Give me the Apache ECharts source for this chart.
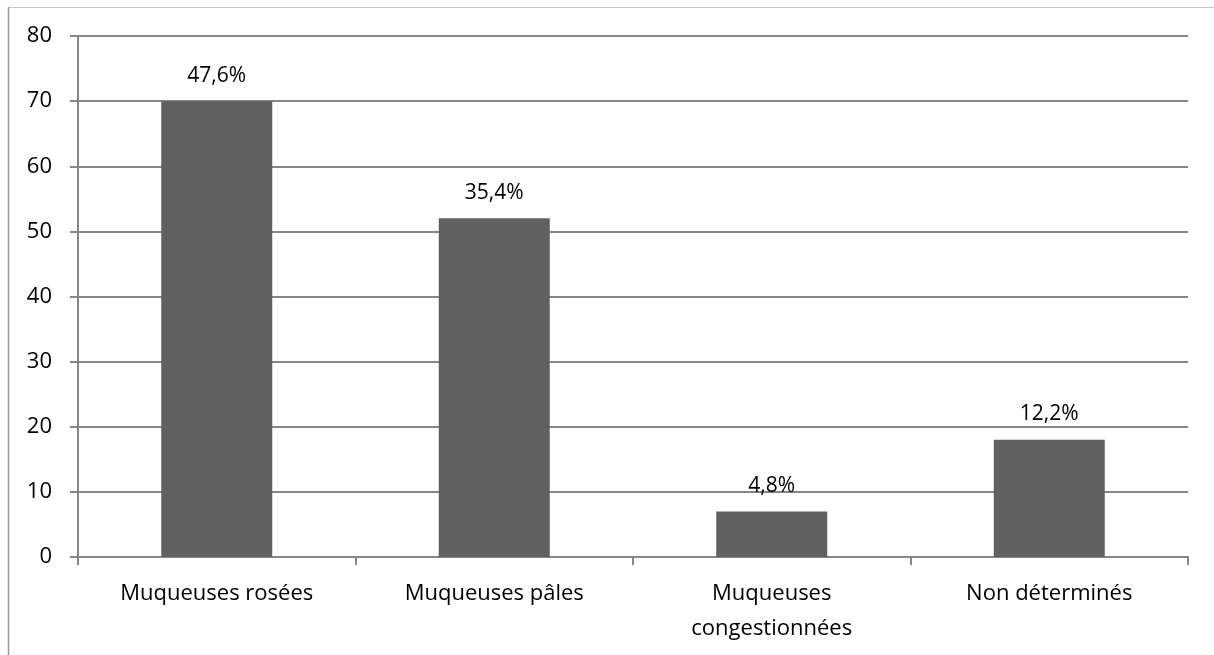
<!DOCTYPE html>
<html>
<head>
<meta charset="utf-8">
<script src="https://cdn.jsdelivr.net/npm/echarts@6/dist/echarts.min.js"></script>
<style>html,body{margin:0;padding:0;background:#fff;}#c{width:1214px;height:655px;}</style>
</head>
<body>
<div id="c"></div>
<script>
const categories = ['Muqueuses rosées', 'Muqueuses pâles', 'Muqueuses\ncongestionnées', 'Non déterminés'];
const values = [70, 52, 7, 18];
const percentLabels = ['47,6%', '35,4%', '4,8%', '12,2%'];
const yTicks = [0, 10, 20, 30, 40, 50, 60, 70, 80];

const font = '"Open Sans", Calibri, sans-serif';
const chart = echarts.init(document.getElementById('c'), null, {renderer: 'canvas'});
chart.setOption({
  animation: false,
  backgroundColor: '#fff',
  graphic: [
    {type: 'line', shape: {x1: 8, y1: 7.5, x2: 1214, y2: 7.5}, style: {stroke: '#c8c8c8', lineWidth: 1}},
    {type: 'line', shape: {x1: 8.5, y1: 7, x2: 8.5, y2: 655}, style: {stroke: '#9a9a9a', lineWidth: 1.5}}
  ],
  grid: {left: 78, right: 26, top: 36, bottom: 98, containLabel: false},
  xAxis: {
    type: 'category',
    data: categories,
    axisLine: {show: true, lineStyle: {color: '#868686', width: 2}},
    axisTick: {show: true, alignWithLabel: false, length: 8, lineStyle: {color: '#868686', width: 2}},
    axisLabel: {color: '#000', fontFamily: font, fontSize: 22, lineHeight: 35, margin: 19, interval: 0}
  },
  yAxis: {
    type: 'value',
    min: yTicks[0],
    max: yTicks[yTicks.length - 1],
    interval: 10,
    axisLine: {show: true, lineStyle: {color: '#868686', width: 2}},
    axisTick: {show: true, length: 8, lineStyle: {color: '#868686', width: 2}},
    axisLabel: {color: '#000', fontFamily: font, fontSize: 22, margin: 26},
    splitLine: {show: true, lineStyle: {color: '#868686', width: 2}}
  },
  series: [{
    type: 'bar',
    data: values,
    barWidth: '40%',
    itemStyle: {color: '#606060'},
    label: {
      show: true,
      position: 'top',
      distance: 15,
      color: '#000',
      fontFamily: font,
      fontSize: 21,
      formatter: p => percentLabels[p.dataIndex]
    }
  }]
});
</script>
</body>
</html>
